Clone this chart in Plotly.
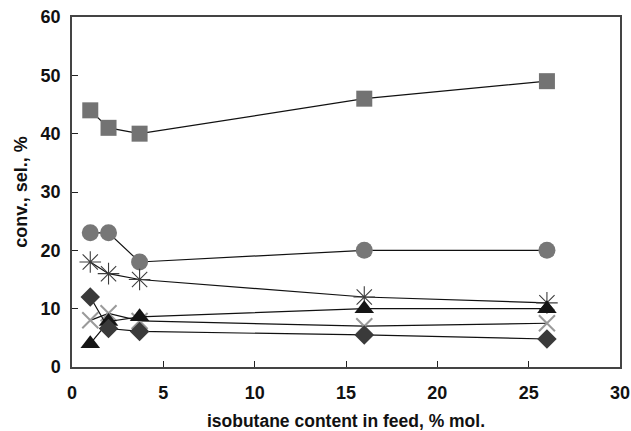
import plotly.graph_objects as go

# isobutane content in feed, % mol.
isobutane = [1, 2, 3.7, 16, 26]

# conversion / selectivity series, %
s_square = [44, 41, 40, 46, 49]
s_circle = [23, 23, 18, 20, 20]
s_asterisk = [18, 16, 15, 12, 11]
s_diamond = [12, 6.6, 6.1, 5.5, 4.8]
s_triangle = [4, 7.8, 8.6, 10, 10]
s_cross = [8, 9.2, 7.9, 7, 7.5]

x_ticks = [0, 5, 10, 15, 20, 25, 30]
y_ticks = [0, 10, 20, 30, 40, 50, 60]

series = [
    (s_square, "square", "#737373", 16, 0),
    (s_circle, "circle", "#777777", 17, 0),
    (s_asterisk, "asterisk-open", "#3d3d3d", 18, 1.1),
    (s_cross, "x-thin-open", "#9a9a9a", 16, 2),
    (s_triangle, "triangle-up", "#151515", 17, 0),
    (s_diamond, "diamond", "#3a3a3a", 15, 0),
]

fig = go.Figure()
for ys, sym, col, size, lw in series:
    fig.add_trace(go.Scatter(
        x=isobutane, y=ys, mode="lines+markers",
        line=dict(color="#111111", width=1.2),
        marker=dict(symbol=sym, size=size, color=col,
                    line=dict(color=col, width=lw)),
        showlegend=False,
    ))

font_bold = "Liberation Sans, Arial, sans-serif"
fig.update_layout(
    width=631, height=431,
    margin=dict(l=72, r=11, t=17, b=64),
    paper_bgcolor="white", plot_bgcolor="white",
    font=dict(family=font_bold, color="#111111"),
    xaxis=dict(
        range=[0, 30], tickvals=x_ticks, ticks="inside", ticklen=6,
        tickcolor="#222", linecolor="#444", linewidth=1.5, mirror=True,
        showgrid=False, zeroline=False, ticklabelstandoff=9,
        automargin=False,
        tickfont=dict(size=18, family=font_bold, weight="bold"),
        title=dict(text="<b>isobutane content in feed, % mol.</b>",
                   font=dict(size=17.5), standoff=13),
    ),
    yaxis=dict(
        range=[0, 60], tickvals=y_ticks, ticks="inside", ticklen=6,
        tickcolor="#222", linecolor="#444", linewidth=1.5, mirror=True,
        showgrid=False, zeroline=False, ticklabelstandoff=6,
        automargin=False,
        tickfont=dict(size=18, family=font_bold, weight="bold"),
        title=dict(text="<b>conv., sel., %</b>", font=dict(size=18),
                   standoff=8),
    ),
)

fig.write_html("out.html")
